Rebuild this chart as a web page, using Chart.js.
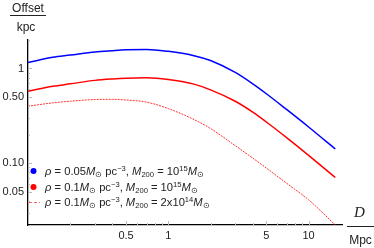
<!DOCTYPE html>
<html>
<head>
<meta charset="utf-8">
<script src="https://cdn.jsdelivr.net/npm/chart.js@4"></script>
<style>
  html, body { margin:0; padding:0; background:#fff; }
  #c { display:block; }
</style>
</head>
<body>
<canvas id="c" width="374" height="248"></canvas>
<script>
// distance D (Mpc) and offset (kpc)
const dist      = [0.1, 0.15, 0.2, 0.3, 0.4, 0.5, 0.7, 1, 1.5, 2, 3, 4, 5, 7, 10, 15.5];
const blueRho05 = [1.156, 1.313, 1.385, 1.496, 1.543, 1.574, 1.589, 1.517, 1.375, 1.213, 0.908, 0.688, 0.541, 0.367, 0.241, 0.141];
const redRho1   = [0.574, 0.648, 0.688, 0.749, 0.776, 0.791, 0.799, 0.767, 0.688, 0.595, 0.451, 0.346, 0.272, 0.185, 0.121, 0.0705];
const redM2e14  = [0.400, 0.433, 0.451, 0.470, 0.472, 0.465, 0.441, 0.377, 0.292, 0.232, 0.153, 0.113, 0.0887, 0.061, 0.041, 0.0222];

const xTickVals   = [0.5, 1, 5, 10];
const xTickLabels = ['0.5', '1', '5', '10'];
const yTickVals   = [0.05, 0.1, 0.5, 1];
const yTickLabels = ['0.05', '0.10', '0.50', '1'];
const xMinor = [0.2, 0.3, 0.4, 0.6, 0.7, 0.8, 0.9, 2, 3, 4, 6, 7, 8, 9];
const yMinor = [0.03, 0.04, 0.06, 0.07, 0.08, 0.09, 0.2, 0.3, 0.4, 0.6, 0.7, 0.8, 0.9, 2];

// legend rows: [text, italic, scale, dy]
const legendRows = [
  [['ρ',1],[' = 0.05'],['M',1],['⊙',0,0.68,2],[' pc'],['−3',0,0.68,-4],[', '],['M',1],['200',0,0.68,2],[' = 10'],['15',0,0.68,-4],['M',1],['⊙',0,0.68,2]],
  [['ρ',1],[' = 0.1'],['M',1],['⊙',0,0.68,2],[' pc'],['−3',0,0.68,-4],[', '],['M',1],['200',0,0.68,2],[' = 10'],['15',0,0.68,-4],['M',1],['⊙',0,0.68,2]],
  [['ρ',1],[' = 0.1'],['M',1],['⊙',0,0.68,2],[' pc'],['−3',0,0.68,-4],[', '],['M',1],['200',0,0.68,2],[' = 2x10'],['14',0,0.68,-4],['M',1],['⊙',0,0.68,2]],
];

const pts = ys => dist.map((d, i) => ({ x: d, y: ys[i] }));
const FONT = '"Liberation Sans", Arial, sans-serif';

function drawRich(ctx, x, y, segs, size) {
  ctx.textBaseline = 'alphabetic';
  ctx.textAlign = 'left';
  segs.forEach(([t, it, s, dy]) => {
    const fs = size * (s || 1);
    ctx.font = (it ? 'italic ' : '') + fs + 'px ' + FONT;
    ctx.fillText(t, x, y + (dy || 0));
    x += ctx.measureText(t).width;
  });
}

const decor = {
  id: 'decor',
  afterDraw(chart) {
    const { ctx, scales: { x, y }, chartArea: a } = chart;
    ctx.save();
    // inward ticks
    ctx.strokeStyle = '#bbb';
    ctx.lineWidth = 1;
    const tx = (v, len) => { const p = Math.round(x.getPixelForValue(v)) + 0.5; ctx.beginPath(); ctx.moveTo(p, a.bottom); ctx.lineTo(p, a.bottom - len); ctx.stroke(); };
    const ty = (v, len) => { const p = Math.round(y.getPixelForValue(v)) + 0.5; ctx.beginPath(); ctx.moveTo(a.left, p); ctx.lineTo(a.left + len, p); ctx.stroke(); };
    xMinor.forEach(v => tx(v, 2)); xTickVals.forEach(v => tx(v, 4));
    yMinor.forEach(v => ty(v, 2)); yTickVals.forEach(v => ty(v, 4));

    // legend
    ctx.fillStyle = '#0000ff';
    ctx.beginPath(); ctx.arc(33.5, 171, 3, 0, Math.PI * 2); ctx.fill();
    ctx.fillStyle = '#ff0000';
    ctx.beginPath(); ctx.arc(33.5, 187, 3, 0, Math.PI * 2); ctx.fill();
    ctx.strokeStyle = '#ff6060';
    ctx.setLineDash([3, 2]);
    ctx.beginPath(); ctx.moveTo(29, 202.5); ctx.lineTo(40, 202.5); ctx.stroke();
    ctx.setLineDash([]);
    ctx.fillStyle = '#222';
    legendRows.forEach((r, i) => drawRich(ctx, 45, 175 + i * 15.5, r, 11.2));

    // axis labels
    ctx.fillStyle = '#222';
    ctx.textAlign = 'center';
    ctx.font = '12px ' + FONT;
    ctx.fillText('Offset', 28, 12);
    ctx.fillText('kpc', 26, 31);
    ctx.fillText('Mpc', 360.5, 244);
    ctx.font = 'italic 15px "Liberation Serif", "Times New Roman", serif';
    ctx.fillText('D', 359.5, 217);
    ctx.strokeStyle = '#222';
    ctx.beginPath(); ctx.moveTo(10, 15.5); ctx.lineTo(46, 15.5); ctx.stroke();
    ctx.beginPath(); ctx.moveTo(347, 226.5); ctx.lineTo(374, 226.5); ctx.stroke();
    ctx.restore();
  }
};

new Chart(document.getElementById('c'), {
  type: 'line',
  data: {
    datasets: [
      { data: pts(blueRho05), borderColor: '#0000ff', borderWidth: 1.5 },
      { data: pts(redRho1),   borderColor: '#ff0000', borderWidth: 1.5 },
      { data: pts(redM2e14),  borderColor: '#ff3030', borderWidth: 1, borderDash: [2, 1] },
    ]
  },
  options: {
    responsive: false,
    animation: false,
    devicePixelRatio: 1,
    layout: { padding: { top: 40, right: 32, left: 0, bottom: 0 } },
    elements: { point: { radius: 0 }, line: { tension: 0, cubicInterpolationMode: 'monotone', fill: false } },
    plugins: { legend: { display: false }, tooltip: { enabled: false } },
    scales: {
      x: {
        type: 'logarithmic', min: 0.1, max: 17.3,
        afterFit: s => { s.height = 23; },
        afterBuildTicks: s => { s.ticks = xTickVals.map(v => ({ value: v })); },
        ticks: { callback: (v, i) => xTickLabels[i], color: '#222', font: { family: FONT, size: 11 }, padding: 4, maxRotation: 0, autoSkip: false },
        grid: { display: false, drawTicks: false },
        border: { display: true, color: '#000', width: 1.3 }
      },
      y: {
        type: 'logarithmic', min: 0.0222, max: 2.0,
        afterFit: s => { s.width = 28; },
        afterBuildTicks: s => { s.ticks = yTickVals.map(v => ({ value: v })); },
        ticks: { callback: (v, i) => yTickLabels[i], color: '#222', font: { family: FONT, size: 11 }, padding: 4, autoSkip: false },
        grid: { display: false, drawTicks: false },
        border: { display: true, color: '#000', width: 1.3 }
      }
    }
  },
  plugins: [decor]
});
</script>
</body>
</html>
